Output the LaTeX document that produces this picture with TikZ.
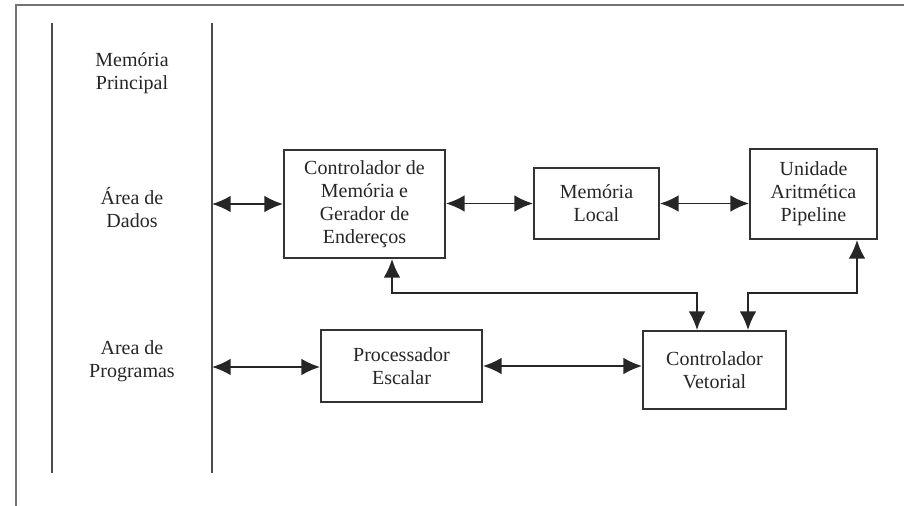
\documentclass[tikz,border=0pt]{standalone}
\usepackage{fontspec}
\setmainfont{Liberation Serif}
\usetikzlibrary{arrows.meta}
\begin{document}
\begin{tikzpicture}[x=0.75pt,y=-0.75pt,
  box/.style={draw=black!80,line width=1.4pt,align=center,inner sep=0pt,text=black!85,font=\fontsize{15}{17.25}\selectfont},
  lbl/.style={align=center,text=black!85,font=\fontsize{15}{17.25}\selectfont},
  arr/.style={line width=1.4pt,draw=black!85,{Latex[length=14pt,width=12.5pt]}-{Latex[length=14pt,width=12.5pt]}},
  rail/.style={line width=1.4pt,draw=black!70},
  frame/.style={line width=1.5pt,draw=black!55}]
\useasboundingbox (0,0) rectangle (904,506);
\draw[frame] (904,5) -- (16,5) -- (16,506);
% rails
\coordinate (r1t) at (52,23); \coordinate (r1b) at (52,473);
\coordinate (r2t) at (212,23); \coordinate (r2b) at (212,473);
\draw[rail] (r1t) -- (r1b);
\draw[rail] (r2t) -- (r2b);
% labels
\node[lbl] (mp) at (132,73) {Memória\\Principal};
\node[lbl] (ad) at (132,208) {Área de\\Dados};
\node[lbl] (ap) at (132,361) {Area de\\Programas};
% boxes
\node[box,minimum width=120.75pt,minimum height=81pt] (cm) at (364.5,204) {Controlador de\\Memória e\\Gerador de\\Endereços};
\node[box,minimum width=93.75pt,minimum height=53.25pt] (ml) at (596.5,203.5) {Memória\\Local};
\node[box,minimum width=95.25pt,minimum height=67.5pt] (ua) at (813.5,194) {Unidade\\Aritmética\\Pipeline};
\node[box,minimum width=120.75pt,minimum height=54pt] (pe) at (401.5,366) {Processador\\Escalar};
\node[box,minimum width=107.25pt,minimum height=58.5pt] (cv) at (714.5,370) {Controlador\\Vetorial};
% connectors
\coordinate (d1) at (212,204);
\coordinate (p1) at (212,367);
\draw[arr] (d1) -- (cm.west |- d1);
\draw[arr] (cm.east |- ml.west) -- (ml.west);
\draw[arr] (ml.east) -- (ua.west |- ml.east);
\draw[arr] (p1) -- (pe.west |- p1);
\draw[arr] (pe.east) -- (cv.west |- pe.east);
\coordinate (j1) at (392,293);
\coordinate (j2) at (697,293);
\coordinate (j3) at (857,293);
\coordinate (j4) at (748,293);
\draw[arr] (cm.south -| j1) -- (j1) -- (j2) -- (cv.north -| j2);
\draw[arr] (ua.south -| j3) -- (j3) -- (j4) -- (cv.north -| j4);
\end{tikzpicture}
\end{document}
